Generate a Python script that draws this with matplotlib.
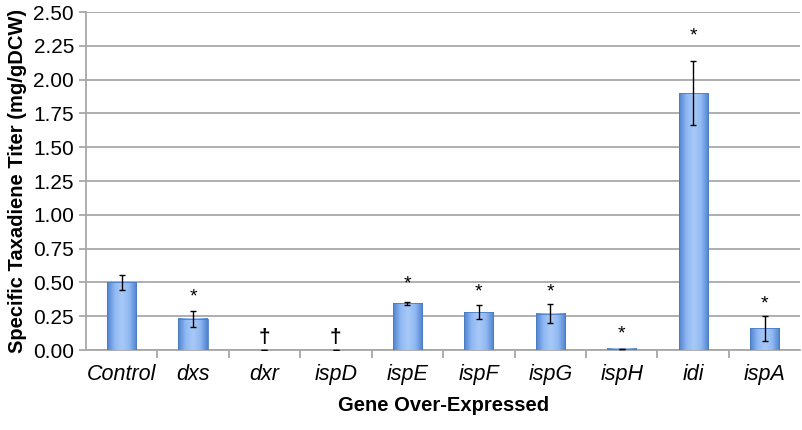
import numpy as np
import matplotlib.pyplot as plt
from matplotlib.colors import LinearSegmentedColormap

plt.rcParams["font.family"] = ["Liberation Sans", "DejaVu Sans"]

# Data
genes = ["Control", "dxs", "dxr", "ispD", "ispE", "ispF", "ispG", "ispH", "idi", "ispA"]
titer = [0.50, 0.23, 0.0, 0.0, 0.345, 0.28, 0.27, 0.01, 1.90, 0.16]
err = [0.055, 0.06, 0.0, 0.0, 0.01, 0.05, 0.067, 0.0, 0.235, 0.09]
marks = ["", "*", "\u2020", "\u2020", "*", "*", "*", "*", "*", "*"]
mark_y = [None, 0.39, 0.09, 0.09, 0.49, 0.43, 0.43, 0.12, 2.32, 0.34]

fig = plt.figure(figsize=(8.02, 4.30), dpi=100)
ax = fig.add_axes([0.107, 0.186, 0.891, 0.786])

x = np.arange(len(genes))
w = 0.41
ax.set_xlim(-0.5, len(genes) - 0.5)
ax.set_ylim(0, 2.5)

# horizontal gradient for the bars (dark edges, light middle)
cmap = LinearSegmentedColormap.from_list("bar", ["#4f82cf", "#8fb8f2", "#a9c9f7", "#8fb8f2", "#4f82cf"])
grad = np.linspace(0, 1, 64).reshape(1, -1)
for xi, h in zip(x, titer):
    if h > 0:
        ax.imshow(grad, cmap=cmap, aspect="auto", extent=(xi - w / 2, xi + w / 2, 0, h),
                  zorder=3, interpolation="bilinear")
ax.bar(x, titer, width=w, color="none", edgecolor="#4a7cc4", linewidth=0.6, zorder=4)
ax.errorbar(x, titer, yerr=err, fmt="none", ecolor="black", elinewidth=1, capsize=2.5,
            capthick=1, zorder=5)
for xi, m, my in zip(x, marks, mark_y):
    if m:
        ax.text(xi, my, m, ha="center", va="center", fontsize=14 if m == "*" else 15,
                fontweight="bold" if m != "*" else "normal", zorder=6)

ax.set_yticks(np.arange(0, 2.51, 0.25))
ax.set_yticklabels([f"{v:.2f}" for v in np.arange(0, 2.51, 0.25)], fontsize=15)
ax.yaxis.grid(True, color="#a8a8a8", linewidth=1.3)
ax.set_axisbelow(True)
ax.set_xticks(x)
ax.set_xticklabels(genes, fontsize=15.5, style="italic")
ax.set_xticks(np.arange(0.5, len(genes) - 0.5, 1), minor=True)
ax.tick_params(axis="x", which="major", length=0, pad=10)
ax.tick_params(axis="x", which="minor", length=6, color="#a8a8a8", width=1.3)
ax.tick_params(axis="y", length=5, color="#a8a8a8", width=1.3)

for s in ["top", "right"]:
    ax.spines[s].set_visible(False)
for s in ["left", "bottom"]:
    ax.spines[s].set_color("#a8a8a8")
    ax.spines[s].set_linewidth(1.3)

ax.set_ylabel("Specific Taxadiene Titer (mg/gDCW)", fontsize=14.5, fontweight="bold", labelpad=4)
ax.set_xlabel("Gene Over-Expressed", fontsize=14.5, fontweight="bold", labelpad=8)

fig.savefig("out.png", dpi=100)
